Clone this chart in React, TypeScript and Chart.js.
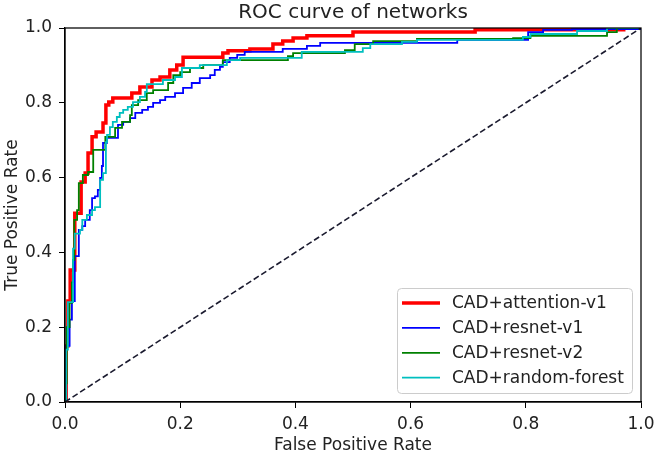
import React, { useEffect, useRef } from "react";
import { Chart, registerables } from "chart.js";

Chart.register(...registerables);

const chartTitle = "ROC curve of networks";
const xTitle = "False Positive Rate";
const yTitle = "True Positive Rate";
const seriesNames = ["CAD+attention-v1", "CAD+resnet-v1", "CAD+resnet-v2", "CAD+random-forest"];
const seriesColors = ["#ff0000", "#0000ff", "#008000", "#00bfbf"];
const seriesWidths = [3.5, 1.8, 1.8, 1.8];

const fprAttention = [0, 0.002, 0.005, 0.009, 0.017, 0.028, 0.035, 0.040, 0.047, 0.054, 0.066, 0.071, 0.076, 0.083, 0.116, 0.130, 0.151, 0.165, 0.182, 0.194, 0.205, 0.274, 0.283, 0.321, 0.361, 0.378, 0.396, 0.420, 0.500, 0.712, 0.970, 1.0];
const tprAttention = [0, 0.15, 0.27, 0.353, 0.505, 0.588, 0.612, 0.666, 0.709, 0.722, 0.746, 0.794, 0.802, 0.813, 0.826, 0.842, 0.861, 0.869, 0.888, 0.901, 0.922, 0.933, 0.939, 0.944, 0.957, 0.965, 0.973, 0.979, 0.989, 0.995, 1.0, 1.0];

const fprResnetV1 = [0, 0.002, 0.008, 0.012, 0.017, 0.024, 0.030, 0.035, 0.043, 0.047, 0.052, 0.057, 0.061, 0.064, 0.066, 0.073, 0.092, 0.101, 0.113, 0.122, 0.134, 0.144, 0.153, 0.165, 0.174, 0.191, 0.205, 0.220, 0.234, 0.252, 0.260, 0.269, 0.274, 0.286, 0.299, 0.312, 0.378, 0.420, 0.443, 0.681, 0.804, 0.830, 0.880, 1.0];
const tprResnetV1 = [0, 0.15, 0.22, 0.27, 0.39, 0.46, 0.47, 0.487, 0.513, 0.545, 0.55, 0.567, 0.599, 0.631, 0.693, 0.706, 0.741, 0.749, 0.759, 0.773, 0.781, 0.789, 0.800, 0.807, 0.816, 0.826, 0.840, 0.853, 0.866, 0.874, 0.888, 0.896, 0.909, 0.920, 0.928, 0.936, 0.944, 0.952, 0.960, 0.968, 0.989, 0.995, 0.997, 1.0];

const fprResnetV2 = [0, 0.002, 0.003, 0.008, 0.012, 0.014, 0.016, 0.021, 0.024, 0.031, 0.040, 0.049, 0.070, 0.087, 0.099, 0.113, 0.116, 0.127, 0.142, 0.153, 0.179, 0.188, 0.200, 0.217, 0.240, 0.274, 0.387, 0.396, 0.486, 0.503, 0.535, 0.611, 0.778, 0.808, 0.941, 0.958, 1.0];
const tprResnetV2 = [0, 0.05, 0.2, 0.265, 0.32, 0.38, 0.487, 0.513, 0.585, 0.607, 0.615, 0.674, 0.709, 0.733, 0.749, 0.767, 0.794, 0.807, 0.826, 0.834, 0.853, 0.874, 0.882, 0.893, 0.901, 0.914, 0.925, 0.933, 0.941, 0.957, 0.965, 0.971, 0.973, 0.979, 0.989, 1.0, 1.0];

const fprForest = [0, 0.002, 0.005, 0.014, 0.017, 0.026, 0.030, 0.038, 0.047, 0.052, 0.061, 0.066, 0.071, 0.073, 0.078, 0.083, 0.090, 0.095, 0.101, 0.109, 0.118, 0.130, 0.139, 0.142, 0.170, 0.191, 0.203, 0.234, 0.281, 0.304, 0.411, 0.517, 0.530, 0.585, 0.611, 0.795, 0.808, 0.889, 0.941, 1.0];
const tprForest = [0, 0.14, 0.267, 0.41, 0.45, 0.46, 0.487, 0.50, 0.513, 0.521, 0.594, 0.612, 0.695, 0.714, 0.735, 0.749, 0.762, 0.773, 0.781, 0.789, 0.802, 0.816, 0.829, 0.850, 0.861, 0.869, 0.893, 0.901, 0.914, 0.920, 0.936, 0.946, 0.957, 0.963, 0.968, 0.976, 0.984, 0.992, 1.0, 1.0];

const chanceFpr = [0, 1];
const chanceTpr = [0, 1];
const tickValues = [0, 0.2, 0.4, 0.6, 0.8, 1.0];

const FONT = "'DejaVu Sans', sans-serif";
const TEXT = "#222222";

const toPoints = (xs: number[], ys: number[]) => xs.map((x, i) => ({ x, y: ys[i] }));

const decorPlugin = {
  id: "decor",
  afterDatasetsDraw(chart: any) {
    const { ctx, chartArea } = chart;
    ctx.save();
    ctx.strokeStyle = "#000";
    ctx.lineWidth = 1.25;
    ctx.strokeRect(chartArea.left, chartArea.top, chartArea.right - chartArea.left, chartArea.bottom - chartArea.top);
    ctx.restore();
  },
  afterDraw(chart: any) {
    const { ctx, chartArea } = chart;
    const cx = (chartArea.left + chartArea.right) / 2;
    const cy = (chartArea.top + chartArea.bottom) / 2;
    ctx.save();
    ctx.fillStyle = TEXT;
    ctx.textAlign = "center";
    ctx.textBaseline = "alphabetic";
    ctx.font = `20px ${FONT}`;
    ctx.fillText(chartTitle, cx, chartArea.top - 10);
    ctx.font = `17px ${FONT}`;
    ctx.textBaseline = "middle";
    ctx.fillText(xTitle, cx, chartArea.bottom + 44);
    ctx.save();
    ctx.translate(13, cy);
    ctx.rotate(-Math.PI / 2);
    ctx.fillText(yTitle, 0, 0);
    ctx.restore();

    // legend
    const w = 235;
    const h = 105;
    const lx = chartArea.right - 9 - w;
    const ly = chartArea.bottom - 9 - h;
    ctx.beginPath();
    (ctx as any).roundRect(lx + 0.5, ly + 0.5, w, h, 4);
    ctx.fillStyle = "rgba(255,255,255,0.85)";
    ctx.fill();
    ctx.strokeStyle = "#cccccc";
    ctx.lineWidth = 1;
    ctx.stroke();
    ctx.textAlign = "left";
    ctx.textBaseline = "middle";
    ctx.font = `17px ${FONT}`;
    seriesNames.forEach((name, i) => {
      const rowY = ly + 15 + i * 24.9;
      ctx.beginPath();
      ctx.moveTo(lx + 5, rowY);
      ctx.lineTo(lx + 43, rowY);
      ctx.strokeStyle = seriesColors[i];
      ctx.lineWidth = seriesWidths[i];
      ctx.stroke();
      ctx.fillStyle = TEXT;
      ctx.fillText(name, lx + 55, rowY + 1);
    });
    ctx.restore();
  },
};

export default function App() {
  const canvasRef = useRef<HTMLCanvasElement | null>(null);

  useEffect(() => {
    if (!canvasRef.current) return;
    const seriesData = [
      toPoints(fprAttention, tprAttention),
      toPoints(fprResnetV1, tprResnetV1),
      toPoints(fprResnetV2, tprResnetV2),
      toPoints(fprForest, tprForest),
    ];
    const datasets: any[] = seriesData.map((data, i) => ({
      label: seriesNames[i],
      data,
      borderColor: seriesColors[i],
      backgroundColor: seriesColors[i],
      borderWidth: seriesWidths[i],
      pointRadius: 0,
      stepped: "before",
      fill: false,
      order: 4 - i,
    }));
    datasets.push({
      label: "chance",
      data: toPoints(chanceFpr, chanceTpr),
      borderColor: "#1a1a2e",
      borderWidth: 1.6,
      borderDash: [6, 3],
      pointRadius: 0,
      fill: false,
      order: 0,
    });

    const tickFont = { family: FONT, size: 17 };
    const chart = new Chart(canvasRef.current, {
      type: "line",
      data: { datasets },
      plugins: [decorPlugin],
      options: {
        animation: false,
        responsive: true,
        maintainAspectRatio: false,
        layout: { padding: { top: 28, right: 16, left: 0, bottom: 0 } },
        plugins: { legend: { display: false }, tooltip: { enabled: false }, title: { display: false } },
        scales: {
          x: {
            type: "linear",
            min: 0,
            max: 1,
            afterBuildTicks: (scale: any) => {
              scale.ticks = tickValues.map((v) => ({ value: v }));
            },
            afterFit: (scale: any) => {
              scale.height = 52;
              scale.paddingLeft = 0;
              scale.paddingRight = 0;
            },
            ticks: {
              font: tickFont,
              color: TEXT,
              padding: 6,
              maxRotation: 0,
              callback: (v: any) => Number(v).toFixed(1),
            },
            grid: { display: true, drawOnChartArea: false, drawTicks: true, tickLength: 6, color: "#000", lineWidth: 1 },
            border: { display: true, color: "#000", width: 1.25 },
          },
          y: {
            type: "linear",
            min: 0,
            max: 1,
            afterBuildTicks: (scale: any) => {
              scale.ticks = tickValues.map((v) => ({ value: v }));
            },
            afterFit: (scale: any) => {
              scale.width = 65;
              scale.paddingTop = 0;
              scale.paddingBottom = 0;
            },
            ticks: {
              font: tickFont,
              color: TEXT,
              padding: 7,
              callback: (v: any) => Number(v).toFixed(1),
            },
            grid: { display: true, drawOnChartArea: false, drawTicks: true, tickLength: 6, color: "#000", lineWidth: 1 },
            border: { display: true, color: "#000", width: 1.25 },
          },
        },
      } as any,
    });
    return () => chart.destroy();
  }, []);

  return (
    <div style={{ position: "absolute", left: 0, top: 0, width: 657, height: 454, background: "#fff" }}>
      <canvas ref={canvasRef} />
    </div>
  );
}
